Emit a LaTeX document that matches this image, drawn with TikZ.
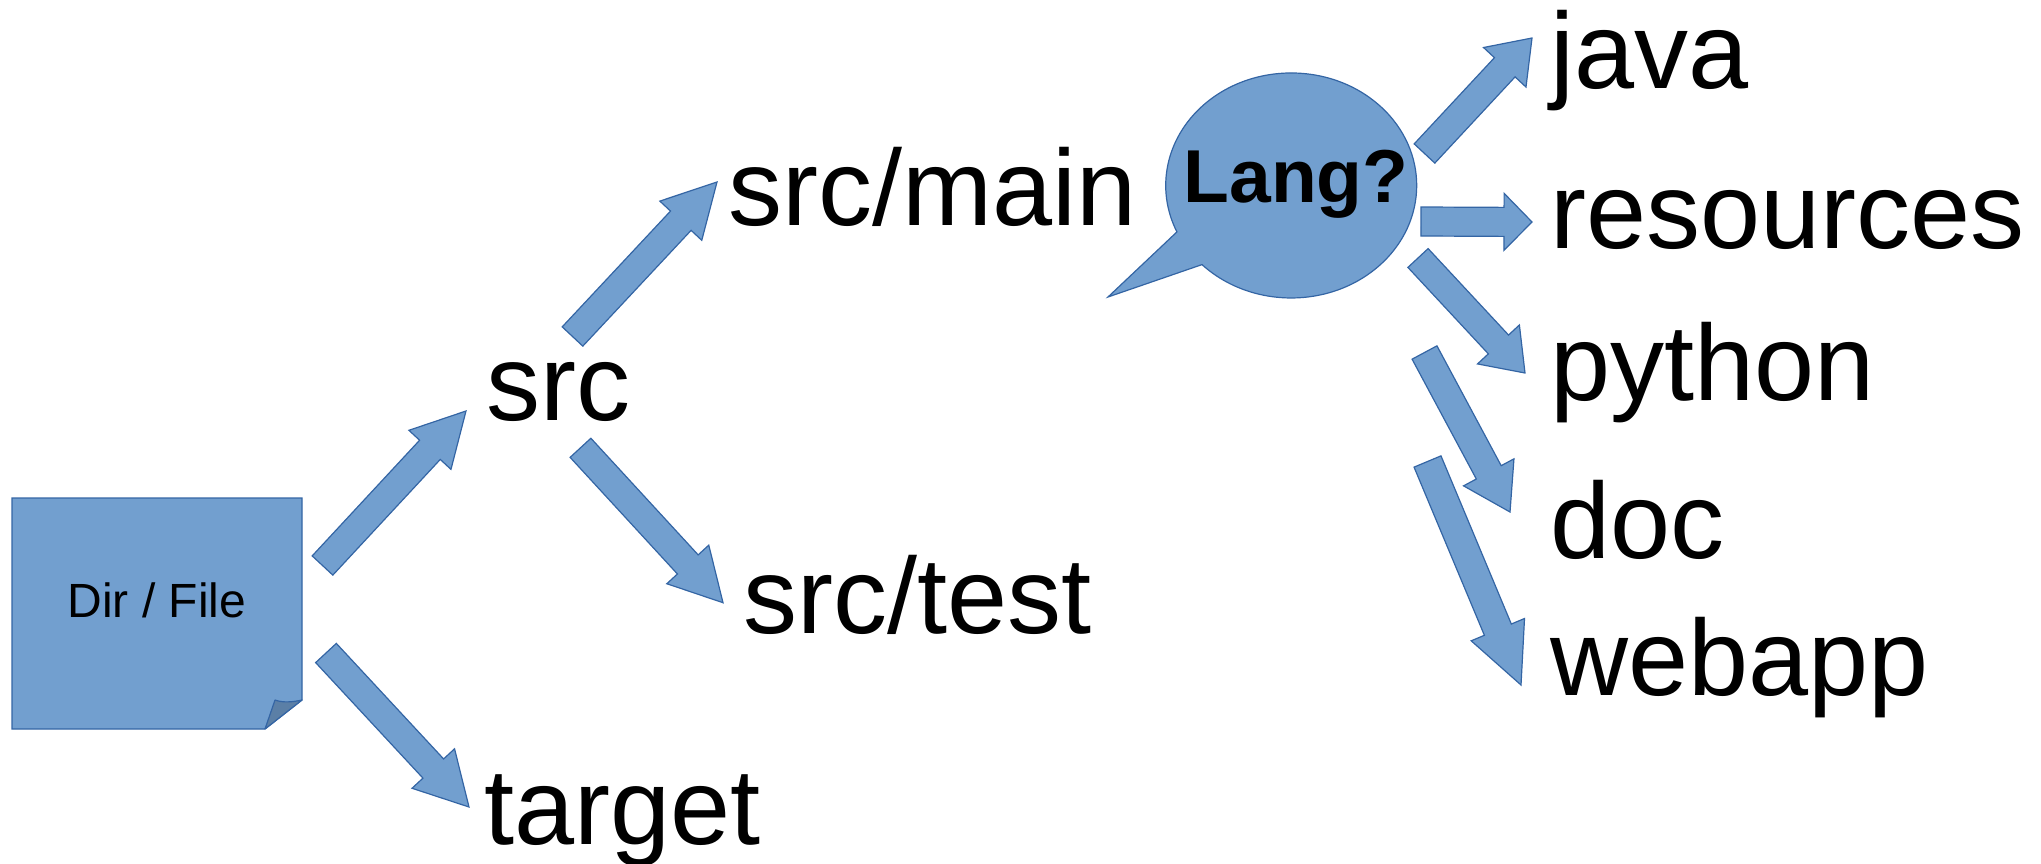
\documentclass[tikz,border=0pt]{standalone}
\usepackage{fontspec}
\setmainfont{Liberation Sans}
\usetikzlibrary{calc}

\definecolor{shapeblue}{HTML}{729FCF}
\definecolor{edgeblue}{HTML}{3465A4}
\definecolor{foldblue}{HTML}{5B7FA6}

\tikzset{
  blockfill/.style={fill=shapeblue, draw=edgeblue, line width=1.2pt, line join=miter},
  dirname/.style={anchor=base west, inner sep=0pt, text=black,
                  font=\fontsize{108}{120}\selectfont},
}

% Block arrow: #1 tail centre, #2 tip, #3 half shaft width,
% #4 half head width, #5 head length
\newcommand\blockarrow[5]{%
  \coordinate (ba-j) at ($(#2)!#5!(#1)$);
  \filldraw[blockfill]
    ($(#1)!#3!90:(#2)$) -- ($(ba-j)!#3!-90:(#1)$) -- ($(ba-j)!#4!-90:(#1)$)
    -- (#2)
    -- ($(ba-j)!#4!90:(#1)$) -- ($(ba-j)!#3!90:(#1)$) -- ($(#1)!#3!-90:(#2)$)
    -- cycle;
}

\begin{document}
\begin{tikzpicture}[x=1pt, y=-1pt]
  \useasboundingbox (0,0) rectangle (2041,864);

  % sticky note with folded corner
  \filldraw[blockfill] (12,498) -- (302,498) -- (302,700) -- (265,729)
    -- (12,729) -- cycle;
  \filldraw[fill=foldblue, draw=edgeblue, line width=1.2pt, line join=round]
    (265,729) -- (275,700) .. controls (283,703) and (293,702) .. (302,700) -- cycle;
  \node[anchor=base, inner sep=0pt, font=\fontsize{48}{52}\selectfont]
    (note) at (157,617) {Dir / File};

  % directory names
  \node[dirname] (src)       at (486,420)  {src};
  \node[dirname] (srcmain)   at (728,225)  {src/main};
  \node[dirname] (srctest)   at (743,633)  {src/test};
  \node[dirname] (target)    at (484,844)  {target};
  \node[dirname] (java)      at (1550,89)  {java};
  \node[dirname] (resources) at (1550,248) {resources};
  \node[dirname] (python)    at (1550,400) {python};
  \node[dirname] (doc)       at (1550,558) {doc};
  \node[dirname] (webapp)    at (1550,695) {webapp};

  % speech bubble
  \coordinate (bubble) at (1291.5,185.5);
  \filldraw[blockfill]
    (1202,264.6) arc[start angle=135.3, end angle=-204.4,
                     x radius=125.5, y radius=112.5]
    -- (1108,297) -- cycle;
  \node[anchor=base, inner sep=0pt, font=\bfseries\fontsize{75}{82}\selectfont]
    (lang) at (1296,202) {Lang?};

  % arrow end points
  \coordinate (t1) at (322.5,565.5);  \coordinate (h1) at (466,411);
  \coordinate (t2) at (572.5,336.5);  \coordinate (h2) at (717,182);
  \coordinate (t3) at (580.5,447.8);  \coordinate (h3) at (723,602.7);
  \coordinate (t4) at (326,653);      \coordinate (h4) at (469,807);
  \coordinate (t5) at (1424.5,153.5); \coordinate (h5) at (1532,38);
  \coordinate (t6) at (1421,221.5);   \coordinate (h6) at (1532,222);
  \coordinate (t7) at (1418,258);     \coordinate (h7) at (1525,373);
  \coordinate (t8) at (1424.5,352.5); \coordinate (h8) at (1510,512);
  \coordinate (t9) at (1427.5,461.5); \coordinate (h9) at (1521,685);

  \blockarrow{t1}{h1}{14.1pt}{28.7pt}{53pt}
  \blockarrow{t2}{h2}{14.1pt}{28.7pt}{53pt}
  \blockarrow{t3}{h3}{14.1pt}{28.5pt}{52pt}
  \blockarrow{t4}{h4}{14.1pt}{29pt}{52.5pt}
  \blockarrow{t5}{h5}{14.1pt}{29pt}{40pt}
  \blockarrow{t6}{h6}{14.5pt}{28.5pt}{28pt}
  \blockarrow{t7}{h7}{13.8pt}{28.6pt}{39pt}
  \blockarrow{t8}{h8}{14.1pt}{28.6pt}{45pt}
  \blockarrow{t9}{h9}{14.6pt}{28.9pt}{60pt}
\end{tikzpicture}
\end{document}
